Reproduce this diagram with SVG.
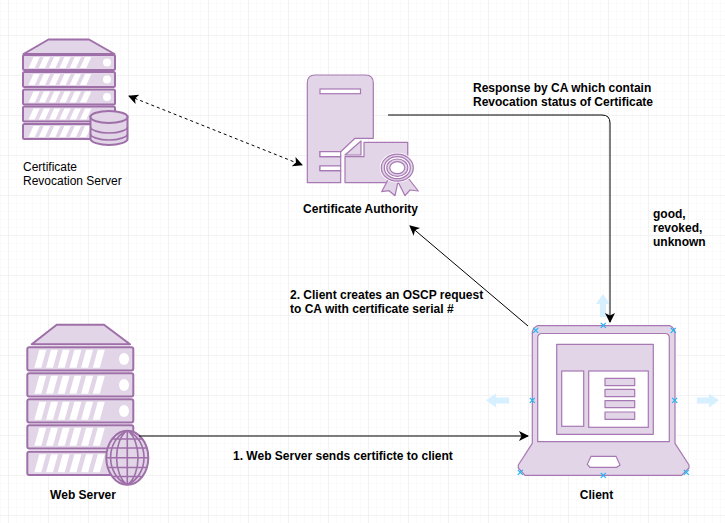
<svg xmlns="http://www.w3.org/2000/svg" xmlns:xlink="http://www.w3.org/1999/xlink" width="725" height="523" viewBox="0 0 725 523">
<style>
text{font-family:"Liberation Sans",Arial,sans-serif;font-size:12px;fill:#000}
.b{font-weight:bold}
.s{fill:#e1d5e7;stroke:#9e6fa8;stroke-width:2;stroke-linejoin:round}
.l{fill:none;stroke:#9e6fa8;stroke-width:1.6}
.t{fill:#e1d5e7;stroke:#a878b4;stroke-width:1.2;stroke-linejoin:round}
.w{fill:#fff;stroke:#a878b4;stroke-width:1.2}
.wn{fill:#fff;stroke:none}
.c{fill:none;stroke:#000;stroke-width:1}
.d{stroke-dasharray:3 3}
.h{fill:#d6f0ff;stroke:none}
.x{fill:none;stroke:#1fb4f5;stroke-width:1.2}
</style>
<defs>
<pattern id="minor" width="8" height="8" patternUnits="userSpaceOnUse" x="0" y="3">
<path d="M0 0H8M0 0V8" fill="none" stroke="#f7f7f7" stroke-width="1"/>
</pattern>
<pattern id="major" width="40" height="40" patternUnits="userSpaceOnUse" x="8" y="-5">
<path d="M0 0H40M0 0V40" fill="none" stroke="#ececec" stroke-width="1.2"/>
</pattern>
<marker id="ah" viewBox="0 0 10 10" refX="9" refY="5" markerWidth="10" markerHeight="10" markerUnits="userSpaceOnUse" orient="auto-start-reverse">
<path d="M0 0L10 5L0 10L2.5 5Z" fill="#000"/>
</marker>
<g id="rowR">
<rect x="0" y="0" width="92" height="15" rx="1.500" class="s"/>
<path class="wn" d="M5.500 13l5 -11h6.300l-5 11zM15.800 13l5 -11h6.300l-5 11zM26.100 13l5 -11h6.300l-5 11zM36.400 13l5 -11h6.300l-5 11zM46.700 13l5 -11h6.300l-5 11zM57 13l5 -11h6.300l-5 11z"/>
</g>
<g id="rowW">
<rect x="0" y="0" width="106" height="23.300" rx="2" class="s"/>
<path class="wn" d="M7 20.500l5 -18h7l-5 18zM18.700 20.500l5 -18h7l-5 18zM30.400 20.500l5 -18h7l-5 18zM42.100 20.500l5 -18h7l-5 18zM53.800 20.500l5 -18h7l-5 18zM65.500 20.500l5 -18h7l-5 18z"/>
</g>
<path id="xm" class="x" d="M-2.500 -2.500L2.500 2.500M-2.500 2.500L2.500 -2.500"/>
</defs>
<rect width="725" height="523" fill="#fff"/>
<rect width="725" height="523" fill="url(#minor)"/>
<rect width="725" height="523" fill="url(#major)"/>

<g id="revocation-server">
<path class="s" d="M23.500 54L48.500 39.500H89L114.500 54Z"/>
<use xlink:href="#rowR" href="#rowR" x="23" y="55"/>
<use xlink:href="#rowR" href="#rowR" x="23" y="72"/>
<use xlink:href="#rowR" href="#rowR" x="23" y="89.500"/>
<use xlink:href="#rowR" href="#rowR" x="23" y="106.500"/>
<use xlink:href="#rowR" href="#rowR" x="23" y="124"/>
<circle class="wn" cx="107" cy="62.500" r="4"/>
<circle class="wn" cx="107" cy="79.500" r="4"/>
<circle class="wn" cx="107" cy="97" r="4"/>
<path class="s" d="M90.500 116V139C90.500 142 99 145 109 145S127.500 142 127.500 139V116Z"/>
<path class="l" d="M90.500 127C90.500 130 99 133 109 133S127.500 130 127.500 127M90.500 134C90.500 137 99 140 109 140S127.500 137 127.500 134"/>
<ellipse class="s" cx="109" cy="117" rx="18.500" ry="6"/>
<text x="23" y="171">Certificate</text>
<text x="23" y="185">Revocation Server</text>
</g>

<g id="certificate-authority">
<path class="t" d="M315 75H365.500Q373.300 75 373.300 83V138.300H355L340.700 151.700H320V156.700H340.700V166H320V170.700H340.700V182.700H307.300V83Q307.300 75 315 75Z"/>
<rect class="w" x="320" y="89" width="40.500" height="4.700"/>
<path class="w" d="M320 151.700H340.700V156.700H320Z"/>
<path class="w" d="M320 166H340.700V170.700H320Z"/>
<path class="t" d="M345 155L361 141V155Z"/>
<path class="t" d="M364 142.300H407.700V182.700H345V156.700H364Z"/>
<path class="t" d="M390 176L381.700 191.700L389 190.700L395 195.700L398 181.700L405 195.700L410 190L418.300 191L405 174Z"/>
<ellipse cx="397.300" cy="167.700" rx="17.500" ry="15" fill="#fff"/>
<ellipse class="t" cx="397.300" cy="167.700" rx="16" ry="13.500"/>
<ellipse class="w" cx="397.300" cy="167.700" rx="13" ry="11"/>
<ellipse class="t" cx="397.300" cy="167.700" rx="10.500" ry="8.700"/>
<ellipse class="w" cx="397.300" cy="167.700" rx="7.500" ry="6"/>
<text class="b" x="360.500" y="213" text-anchor="middle">Certificate Authority</text>
</g>

<g id="web-server">
<path class="s" d="M31.700 344.300L56.700 324.700H104L130 344.300Z"/>
<use xlink:href="#rowW" href="#rowW" x="27.300" y="347.300"/>
<use xlink:href="#rowW" href="#rowW" x="27.300" y="373.300"/>
<use xlink:href="#rowW" href="#rowW" x="27.300" y="399.300"/>
<use xlink:href="#rowW" href="#rowW" x="27.300" y="425.300"/>
<use xlink:href="#rowW" href="#rowW" x="27.300" y="451.700"/>
<ellipse class="wn" cx="124" cy="359" rx="5" ry="6"/>
<ellipse class="wn" cx="124" cy="385" rx="5" ry="6"/>
<ellipse class="wn" cx="124" cy="411" rx="5" ry="6"/>
<ellipse class="s" cx="127.300" cy="457.700" rx="21" ry="27"/>
<path class="l" d="M127.300 430.700V484.700M106.300 457.700H148.300M112 439H142.500M107.500 448H147M107.500 467.500H147M112 476.500H142.500M127.300 430.700C113 440 113 475 127.300 484.700M127.300 430.700C141.600 440 141.600 475 127.300 484.700M127.300 430.700C105 440 105 475 127.300 484.700M127.300 430.700C149.600 440 149.600 475 127.300 484.700"/>
<text class="b" x="83" y="499" text-anchor="middle">Web Server</text>
</g>

<g id="client">
<path class="t" d="M537.300 325.700H670Q675 328 675 333V443.300L689 465V468L681.700 475.300H525L518.300 468V465L532.300 443.300V333Q532.300 328 537.300 325.700Z"/>
<path class="w" d="M542 333.500H665Q669.300 333.500 669.300 338V441.700H537.700V338Q537.700 333.500 542 333.500Z"/>
<rect class="t" x="556.700" y="344.300" width="96.600" height="90"/>
<rect class="w" x="561.700" y="371" width="22" height="55.300"/>
<rect class="w" x="588.700" y="371" width="59.600" height="56.300"/>
<rect class="t" x="605" y="378.300" width="29.700" height="7.400"/>
<rect class="t" x="605" y="389.300" width="29.700" height="7.400"/>
<rect class="t" x="605" y="400.700" width="29.700" height="7"/>
<rect class="t" x="605" y="412" width="29.700" height="7.300"/>
<path class="w" d="M591 456.300H616L620 465L616.700 467.300H590L587.300 464.300Z"/>
<text class="b" x="596.500" y="499" text-anchor="middle">Client</text>
<path class="h" d="M603 294L610 304H606V317H600V304H596Z"/>
<path class="h" d="M486 400.300L496 393.500V397.500H509V403.500H496V407.500Z"/>
<path class="h" d="M719 400.300L709 393.500V397.500H697V403.500H709V407.500Z"/>
<use xlink:href="#xm" href="#xm" x="535.700" y="330.300"/>
<use xlink:href="#xm" href="#xm" x="603.300" y="325.300"/>
<use xlink:href="#xm" href="#xm" x="673.300" y="330.300"/>
<use xlink:href="#xm" href="#xm" x="532.300" y="400.300"/>
<use xlink:href="#xm" href="#xm" x="674.700" y="400.300"/>
<use xlink:href="#xm" href="#xm" x="520.300" y="472.300"/>
<use xlink:href="#xm" href="#xm" x="603.300" y="475.300"/>
<use xlink:href="#xm" href="#xm" x="686.300" y="472.300"/>
</g>

<g id="connectors">
<path class="c d" d="M129 96L302 165" marker-start="url(#ah)" marker-end="url(#ah)"/>
<path class="c" d="M388 115H602Q610 115 610 123V322" marker-end="url(#ah)"/>
<path class="c" d="M528 326L410 226" marker-end="url(#ah)"/>
<path class="c" d="M139 436H528" marker-end="url(#ah)"/>
<text class="b" x="473" y="92">Response by CA which contain</text>
<text class="b" x="473" y="106">Revocation status of Certificate</text>
<text class="b" x="653" y="218">good,</text>
<text class="b" x="653" y="232">revoked,</text>
<text class="b" x="653" y="246">unknown</text>
<text class="b" x="290" y="299">2. Client creates an OSCP request</text>
<text class="b" x="290" y="313">to CA with certificate serial #</text>
<text class="b" x="233" y="460">1. Web Server sends certificte to client</text>
</g>
</svg>
